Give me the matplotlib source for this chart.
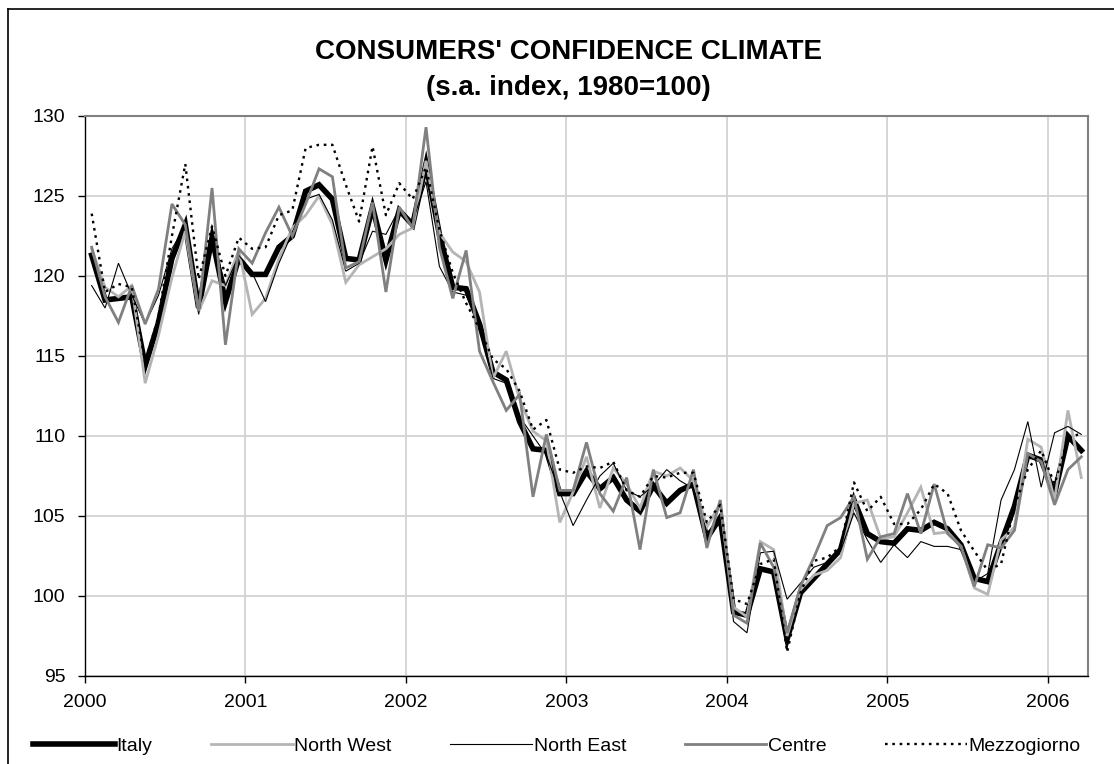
import matplotlib
matplotlib.use('Agg')
import matplotlib.pyplot as plt
from matplotlib.lines import Line2D
import numpy as np

plt.rcParams['font.family'] = ['Liberation Sans', 'DejaVu Sans']

# monthly data, Jan 2000 .. Mar 2006
years = ['2000', '2001', '2002', '2003', '2004', '2005', '2006']

italy = [121.3, 118.5, 118.6, 118.7, 114.4, 117.1, 121.1, 123.2, 118.0, 122.4, 118.4, 121.1,
         120.1, 120.1, 121.8, 122.5, 125.3, 125.7, 124.8, 121.1, 121.0, 124.3, 121.0, 124.1,
         123.2, 127.0, 122.6, 119.3, 119.2, 117.0, 114.0, 113.5, 110.9, 109.2, 109.1, 106.4,
         106.4, 107.8, 106.7, 107.4, 106.0, 105.3, 106.9, 105.8, 106.6, 107.0, 103.6, 104.9,
         99.0, 98.8, 101.7, 101.5, 97.3, 100.2, 101.1, 102.0, 102.9, 106.0, 103.9, 103.4,
         103.3, 104.2, 104.1, 104.6, 104.2, 103.2, 101.1, 100.9, 103.3, 105.6, 108.8, 108.5,
         106.4, 110.0, 109.1]

north_west = [121.7, 119.3, 118.7, 119.4, 113.3, 116.3, 119.9, 122.8, 117.8, 119.7, 119.4, 121.6,
              117.6, 118.6, 121.1, 123.0, 123.8, 125.0, 123.2, 119.6, 120.7, 121.2, 121.7, 122.6,
              123.0, 127.2, 122.7, 121.5, 120.9, 119.0, 113.6, 115.3, 112.3, 110.3, 109.7, 104.6,
              106.5, 108.7, 105.5, 108.0, 107.0, 105.5, 107.8, 107.5, 108.0, 107.2, 104.3, 105.8,
              99.3, 98.7, 103.4, 102.9, 97.5, 100.4, 101.3, 101.6, 102.4, 105.8, 106.0, 103.6,
              103.7, 105.2, 106.8, 103.9, 104.0, 103.1, 100.5, 100.1, 103.5, 104.3, 109.8, 109.3,
              106.0, 111.6, 107.4]

north_east = [119.4, 118.0, 120.8, 118.8, 117.0, 118.8, 121.7, 123.1, 117.6, 122.6, 119.4, 121.3,
              120.2, 118.4, 120.8, 122.7, 124.8, 125.1, 123.5, 120.3, 120.8, 122.8, 122.6, 124.2,
              123.4, 125.9, 120.6, 119.0, 118.8, 117.0, 113.6, 113.3, 111.2, 110.0, 108.8, 106.5,
              104.4, 106.0, 107.5, 108.3, 106.6, 106.2, 106.9, 107.9, 107.2, 106.7, 104.0, 104.5,
              98.4, 97.7, 102.7, 102.8, 99.8, 100.8, 101.8, 102.1, 102.8, 105.2, 103.5, 102.1,
              103.2, 102.4, 103.4, 103.1, 103.1, 102.9, 100.9, 101.4, 106.0, 107.9, 110.9, 106.8,
              110.2, 110.6, 110.1]

centre = [121.8, 118.7, 117.1, 119.4, 117.0, 119.2, 124.5, 123.2, 117.8, 125.5, 115.7, 121.7,
          120.8, 122.7, 124.3, 122.5, 124.5, 126.7, 126.2, 120.5, 120.9, 124.6, 119.0, 124.3,
          123.0, 129.3, 121.8, 118.6, 121.6, 115.3, 113.4, 111.6, 112.6, 106.2, 110.1, 106.6,
          106.6, 109.6, 106.4, 105.3, 107.4, 102.9, 107.9, 104.9, 105.2, 107.9, 103.0, 106.0,
          98.8, 98.3, 103.3, 101.8, 97.7, 100.6, 102.4, 104.4, 104.9, 106.2, 102.3, 103.7,
          103.9, 106.4, 103.9, 107.0, 103.9, 103.1, 100.6, 103.2, 103.0, 104.1, 108.9, 108.4,
          105.7, 107.9, 108.7]

mezzogiorno = [123.9, 119.0, 119.5, 119.3, 114.6, 117.5, 122.5, 127.0, 119.8, 123.1, 120.0, 122.4,
               121.7, 121.8, 123.8, 124.1, 128.0, 128.2, 128.2, 125.7, 123.4, 128.1, 123.8, 125.8,
               124.8, 126.8, 122.9, 120.2, 118.3, 116.7, 114.8, 114.2, 112.8, 110.4, 111.0, 107.9,
               107.7, 108.1, 108.0, 108.4, 106.6, 106.2, 107.5, 107.4, 107.7, 107.7, 104.6, 105.7,
               99.8, 99.5, 102.0, 102.3, 96.5, 100.2, 102.2, 102.4, 103.1, 107.1, 105.3, 106.2,
               104.5, 104.5, 105.4, 107.0, 106.4, 104.1, 102.8, 101.6, 102.0, 105.6, 107.9, 109.1,
               107.0, 109.8, 110.2]

series = [
    ('Italy', italy, dict(color='black', lw=4.0)),
    ('North West', north_west, dict(color='#b4b4b4', lw=2.0)),
    ('North East', north_east, dict(color='black', lw=0.8)),
    ('Centre', centre, dict(color='#808080', lw=2.0)),
    ('Mezzogiorno', mezzogiorno, dict(color='black', lw=1.7, linestyle=(0, (1.1, 2.0)))),
]

fig = plt.figure(figsize=(11.14, 7.64), dpi=100)
ax = fig.add_axes([85 / 1114, 1 - 676 / 764, (1088 - 85) / 1114, (676 - 116) / 764])

n = len(italy)
x = np.arange(n) + 0.5
for name, vals, style in series:
    ax.plot(x, vals, label=name, solid_joinstyle='miter', **style)

ax.set_xlim(0, n)
ax.set_ylim(95, 130)
ax.set_yticks(np.arange(95, 131, 5))
ax.set_xticks(np.arange(0, n, 12))
ax.set_xticklabels(years)
ax.grid(True, color='#d0d0d0', linewidth=1.2)
ax.set_axisbelow(True)
ax.tick_params(axis='both', labelsize=14, length=5, width=1, direction='out', color='black')
ax.tick_params(axis='x', pad=8)
ax.tick_params(axis='y', pad=9)
for side in ['top', 'right']:
    ax.spines[side].set_color('#808080')
    ax.spines[side].set_linewidth(1.5)
for side in ['left', 'bottom']:
    ax.spines[side].set_color('black')
    ax.spines[side].set_linewidth(1.0)

fig.text(0.51, 1 - 52 / 764, "CONSUMERS' CONFIDENCE CLIMATE", ha='center', va='center',
         fontsize=20, fontweight='bold')
fig.text(0.51, 1 - 88 / 764, "(s.a. index, 1980=100)", ha='center', va='center',
         fontsize=20, fontweight='bold')

# chart border (left and top edges visible)
fig.add_artist(Line2D([8 / 1114, 8 / 1114], [0, 1 - 9 / 764], color='black', lw=1.2))
fig.add_artist(Line2D([8 / 1114, 1], [1 - 9 / 764, 1 - 9 / 764], color='black', lw=1.2))

fig.legend(loc='center', bbox_to_anchor=(0.5, 1 - 746 / 764), ncol=5, frameon=False,
           fontsize=14, handlelength=4.2, handletextpad=0.1, columnspacing=3.0)

fig.savefig('out.png', dpi=100)
